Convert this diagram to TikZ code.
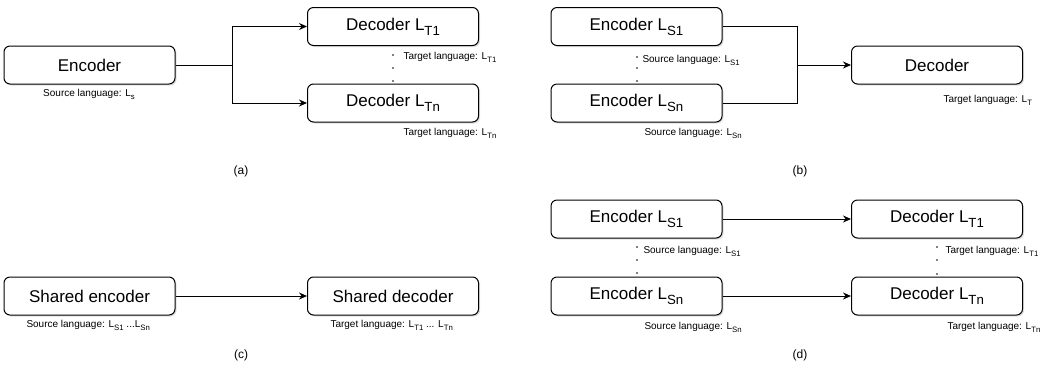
\documentclass[tikz,border=0pt]{standalone}
\usepackage{fontspec}
\usepackage{graphicx}
\setmainfont{Liberation Sans}
\usetikzlibrary{shadows,arrows.meta}
\newcommand\lsub[1]{\raisebox{-.3em}{\scalebox{0.78}{#1}}}

\begin{document}
\begin{tikzpicture}[x=1pt,y=-1pt,>={Stealth[length=8pt,width=7pt]},line width=1pt,
    box/.style={draw, fill=white, rounded corners=6pt, minimum width=171pt, minimum height=38pt, inner sep=0pt,
      font=\fontsize{17}{20}\selectfont, drop shadow={opacity=0.25, shadow xshift=1.5pt, shadow yshift=-1.5pt}},
    lbl/.style={font=\fontsize{10}{12}\selectfont, inner sep=0pt},
    capt/.style={font=\fontsize{12}{14}\selectfont, inner sep=0pt}]
  \useasboundingbox (0,0) rectangle (1064,368);
  % (a)
  \node[box] (encA) at (89.5,65) {Encoder};
  \node[box] (decAone) at (393,26.5) {Decoder L\lsub{T1}};
  \node[box] (decAn) at (393,103) {Decoder L\lsub{Tn}};
  \node[lbl] (srcA) at (89,94) {Source language: L\lsub{s}};
  \node[lbl, anchor=west] (tgtAone) at (403,57) {Target language: L\lsub{T1}};
  \node[lbl, anchor=west] (tgtAn) at (403,133) {Target language: L\lsub{Tn}};
  \coordinate (ja) at (232,65);
  \draw (encA.east) -- (ja);
  \draw[->] (ja) |- (decAone);
  \draw[->] (ja) |- (decAn);
  \fill (393,55) circle (0.8) (393,68) circle (0.8) (393,81) circle (0.8);
  \node[capt] (capA) at (241,171) {(a)};
  % (b)
  \node[box] (encBone) at (636.5,26.5) {Encoder L\lsub{S1}};
  \node[box] (encBn) at (636.5,103) {Encoder L\lsub{Sn}};
  \node[box] (decB) at (937,65) {Decoder};
  \node[lbl, anchor=west] (srcBone) at (642,60) {Source language: L\lsub{S1}};
  \node[lbl, anchor=west] (srcBn) at (644,133) {Source language: L\lsub{Sn}};
  \node[lbl, anchor=west] (tgtB) at (943,100) {Target language: L\lsub{T}};
  \coordinate (jb) at (797,65);
  \draw (encBone.east) -| (jb);
  \draw (encBn.east) -| (jb);
  \draw[->] (jb) -- (decB);
  \fill (637,57) circle (0.8) (637,68) circle (0.8) (637,81) circle (0.8);
  \node[capt] (capB) at (800,171) {(b)};
  % (c)
  \node[box] (encC) at (89.5,296) {Shared encoder};
  \node[box] (decC) at (393,296) {Shared decoder};
  \node[lbl, anchor=west] (srcC) at (26,325) {Source language: L\lsub{S1} ...L\lsub{Sn}};
  \node[lbl, anchor=west] (tgtC) at (330,325) {Target language: L\lsub{T1} ... L\lsub{Tn}};
  \draw[->] (encC) -- (decC);
  \node[capt] (capC) at (241,355) {(c)};
  % (d)
  \node[box] (encDone) at (636.5,219) {Encoder L\lsub{S1}};
  \node[box] (encDn) at (636.5,296) {Encoder L\lsub{Sn}};
  \node[box] (decDone) at (937,219) {Decoder L\lsub{T1}};
  \node[box] (decDn) at (937,296) {Decoder L\lsub{Tn}};
  \node[lbl, anchor=west] (srcDone) at (643,251) {Source language: L\lsub{S1}};
  \node[lbl, anchor=west] (srcDn) at (644,327) {Source language: L\lsub{Sn}};
  \node[lbl, anchor=west] (tgtDone) at (945,251) {Target language: L\lsub{T1}};
  \node[lbl, anchor=west] (tgtDn) at (947,327) {Target language: L\lsub{Tn}};
  \draw[->] (encDone) -- (decDone);
  \draw[->] (encDn) -- (decDn);
  \fill (637,247) circle (0.8) (637,260) circle (0.8) (637,273) circle (0.8);
  \fill (937,247) circle (0.8) (937,260) circle (0.8) (937,274) circle (0.8);
  \node[capt] (capD) at (800,355) {(d)};
\end{tikzpicture}
\end{document}
